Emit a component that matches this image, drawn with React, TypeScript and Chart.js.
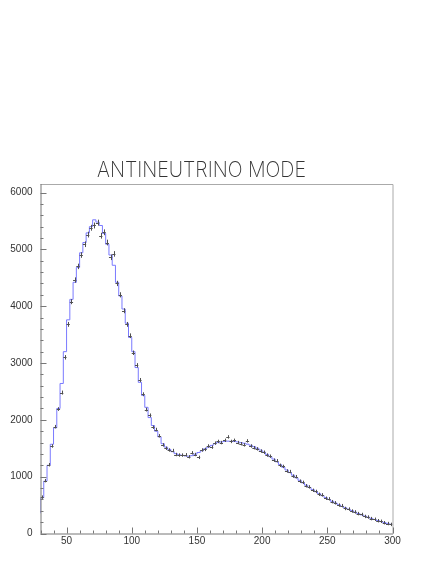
import React, { useEffect, useRef } from 'react';
import { Chart, registerables } from 'chart.js';

Chart.register(...registerables);

const TITLE = 'ANTINEUTRINO MODE';

// Histogram binning (x in the histogram's own units)
const BIN_WIDTH = 2.5;
const MC_FIRST_BIN = 27.5;
const DATA_FIRST_BIN = 30;

// Axis ranges and tick steps
const X_MIN = 30;
const X_MAX = 300;
const Y_MIN = 0;
const Y_MAX = 6150;
const X_MAJOR = 50;
const X_MINOR = 10;
const Y_MAJOR = 1000;
const Y_MINOR = 200;

// Simulation histogram (blue steps), bin low edges from 27.5 in steps of 2.5
const mcCounts = [
  360,
  630, 920, 1200, 1570, 1860, 2200, 2640, 3200, 3760, 4120,
  4420, 4680, 4940, 5120, 5290, 5400, 5520, 5480, 5420, 5280,
  5090, 4900, 4720, 4420, 4180, 3950, 3700, 3450, 3200, 2920,
  2660, 2430, 2220, 2040, 1900, 1800, 1700, 1580, 1520, 1480,
  1440, 1405, 1385, 1375, 1365, 1360, 1370, 1395, 1425, 1455,
  1490, 1520, 1550, 1580, 1600, 1612, 1620, 1625, 1622, 1618,
  1612, 1600, 1588, 1572, 1552, 1528, 1500, 1468, 1432, 1392,
  1352, 1310, 1262, 1212, 1165, 1118, 1072, 1026, 980, 936,
  892, 850, 810, 772, 736, 700, 666, 632, 598, 566,
  536, 506, 478, 452, 428, 402, 376, 352, 328, 306,
  286, 266, 246, 228, 210, 194, 178, 162,
];

// Measured data (crosses), bin low edges from 30 in steps of 2.5
const dataCounts = [
  640, 930, 1210, 1540, 1880, 2190, 2480, 3100, 3680, 4080,
  4460, 4700, 4900, 5090, 5260, 5380, 5420, 5470, 5240, 5300,
  5120, 4860, 4920, 4400, 4200, 3920, 3680, 3480, 3180, 2960,
  2700, 2450, 2180, 2080, 1870, 1830, 1720, 1560, 1500, 1470,
  1460, 1390, 1380, 1380, 1385, 1350, 1420, 1390, 1340, 1470,
  1480, 1540, 1520, 1590, 1620, 1600, 1640, 1700, 1620, 1640,
  1600, 1580, 1560, 1630, 1540, 1510, 1490, 1450, 1430, 1380,
  1360, 1290, 1280, 1200, 1180, 1100, 1090, 1010, 1000, 920,
  900, 840, 820, 760, 740, 690, 680, 620, 610, 560,
  540, 500, 490, 440, 430, 395, 380, 350, 335, 300,
  290, 262, 250, 225, 215, 190, 175, 160,
];

const mcPoints = [
  ...mcCounts.map((v, i) => ({ x: MC_FIRST_BIN + i * BIN_WIDTH, y: v })),
  { x: MC_FIRST_BIN + mcCounts.length * BIN_WIDTH, y: mcCounts[mcCounts.length - 1] },
];
const dataPoints = dataCounts.map((v, i) => ({ x: DATA_FIRST_BIN + (i + 0.5) * BIN_WIDTH, y: v }));

const errorBarsPlugin = {
  id: 'errorBars',
  afterDatasetsDraw(chart: any) {
    const meta = chart.getDatasetMeta(1);
    const xs = chart.scales.x;
    const ys = chart.scales.y;
    const ctx = chart.ctx;
    const area = chart.chartArea;
    ctx.save();
    ctx.beginPath();
    ctx.rect(area.left, area.top, area.right - area.left, area.bottom - area.top);
    ctx.clip();
    ctx.strokeStyle = '#505050';
    ctx.lineWidth = 1;
    meta.data.forEach((el: any, i: number) => {
      const p = dataPoints[i];
      const err = Math.max(Math.sqrt(p.y) * 0.7, 30);
      const x0 = xs.getPixelForValue(p.x - BIN_WIDTH / 2);
      const x1 = xs.getPixelForValue(p.x + BIN_WIDTH / 2);
      const yTop = ys.getPixelForValue(p.y + err);
      const yBot = ys.getPixelForValue(p.y - err);
      const cx = Math.round(el.x) + 0.5;
      const cy = Math.round(el.y) + 0.5;
      ctx.beginPath();
      ctx.moveTo(x0, cy);
      ctx.lineTo(x1, cy);
      ctx.moveTo(cx, yTop);
      ctx.lineTo(cx, yBot);
      ctx.stroke();
    });
    ctx.restore();
  },
};

const framePlugin = {
  id: 'frameTicks',
  afterDraw(chart: any) {
    const ctx = chart.ctx;
    const a = chart.chartArea;
    const xs = chart.scales.x;
    const ys = chart.scales.y;
    ctx.save();
    ctx.lineWidth = 1;
    // frame top/right
    ctx.strokeStyle = '#aaaaaa';
    ctx.beginPath();
    ctx.moveTo(a.left, a.top + 0.5);
    ctx.lineTo(a.right + 0.5, a.top + 0.5);
    ctx.lineTo(a.right + 0.5, a.bottom);
    ctx.stroke();
    // axes left/bottom
    ctx.strokeStyle = '#777777';
    ctx.beginPath();
    ctx.moveTo(a.left + 0.5, a.top);
    ctx.lineTo(a.left + 0.5, a.bottom + 0.5);
    ctx.lineTo(a.right + 0.5, a.bottom + 0.5);
    ctx.stroke();
    // inward ticks
    ctx.strokeStyle = '#777777';
    ctx.beginPath();
    xs.ticks.forEach((t: any) => {
      if (t.value % X_MINOR !== 0) return;
      const len = t.value % X_MAJOR === 0 ? 6 : 3;
      const px = Math.round(xs.getPixelForValue(t.value)) + 0.5;
      ctx.moveTo(px, a.bottom);
      ctx.lineTo(px, a.bottom - len);
    });
    ys.ticks.forEach((t: any) => {
      if (t.value % Y_MINOR !== 0) return;
      const len = t.value % Y_MAJOR === 0 ? 6 : 3;
      const py = Math.round(ys.getPixelForValue(t.value)) + 0.5;
      ctx.moveTo(a.left, py);
      ctx.lineTo(a.left + len, py);
    });
    ctx.stroke();
    // title
    ctx.fillStyle = '#333333';
    ctx.font = '200 21px Inter, "DejaVu Sans", sans-serif';
    ctx.textBaseline = 'alphabetic';
    ctx.textAlign = 'left';
    const w = ctx.measureText(TITLE).width;
    const targetW = 209;
    const sx = targetW / w;
    ctx.translate(97, 177);
    ctx.scale(sx, 1);
    ctx.fillText(TITLE, 0, 0);
    ctx.restore();
  },
};

export default function App() {
  const ref = useRef<HTMLCanvasElement>(null);
  useEffect(() => {
    if (!ref.current) return;
    const chart = new Chart(ref.current, {
      type: 'line',
      data: {
        datasets: [
          {
            label: 'Simulation',
            data: mcPoints,
            borderColor: '#7a7aff',
            borderWidth: 1,
            pointRadius: 0,
            stepped: true,
            fill: false,
          },
          {
            type: 'scatter',
            label: 'Data',
            data: dataPoints,
            pointRadius: 0,
            showLine: false,
            borderColor: '#555',
          } as any,
        ],
      },
      plugins: [errorBarsPlugin, framePlugin],
      options: {
        responsive: false,
        animation: false,
        devicePixelRatio: 1,
        layout: { padding: { top: 184, right: 43.5, left: 0, bottom: 0 } },
        plugins: {
          legend: { display: false },
          title: { display: false },
          tooltip: { enabled: false },
        },
        scales: {
          x: {
            type: 'linear',
            min: X_MIN,
            max: X_MAX,
            grid: { display: false, drawTicks: false },
            border: { display: false },
            ticks: {
              stepSize: X_MINOR,
              autoSkip: false,
              includeBounds: false,
              maxRotation: 0,
              padding: 2,
              color: '#333',
              font: { family: '"Liberation Sans", Arial, sans-serif', size: 10 },
              callback: (v: any) => (Number(v) % X_MAJOR === 0 ? String(v) : ''),
            },
            afterFit: (s: any) => {
              s.height = 30.5;
            },
          },
          y: {
            type: 'linear',
            min: Y_MIN,
            max: Y_MAX,
            grid: { display: false, drawTicks: false },
            border: { display: false },
            ticks: {
              stepSize: Y_MINOR,
              autoSkip: false,
              includeBounds: false,
              padding: 8,
              color: '#333',
              font: { family: '"Liberation Sans", Arial, sans-serif', size: 10 },
              callback: (v: any) => (Number(v) % Y_MAJOR === 0 ? String(v) : ''),
            },
            afterFit: (s: any) => {
              s.width = 40.5;
            },
          },
        },
      } as any,
    });
    return () => chart.destroy();
  }, []);
  return (
    <div style={{ position: 'absolute', left: 0, top: 0, width: 436, height: 564, background: '#fff' }}>
      <canvas ref={ref} width={436} height={564} style={{ width: 436, height: 564, display: 'block' }} />
    </div>
  );
}
